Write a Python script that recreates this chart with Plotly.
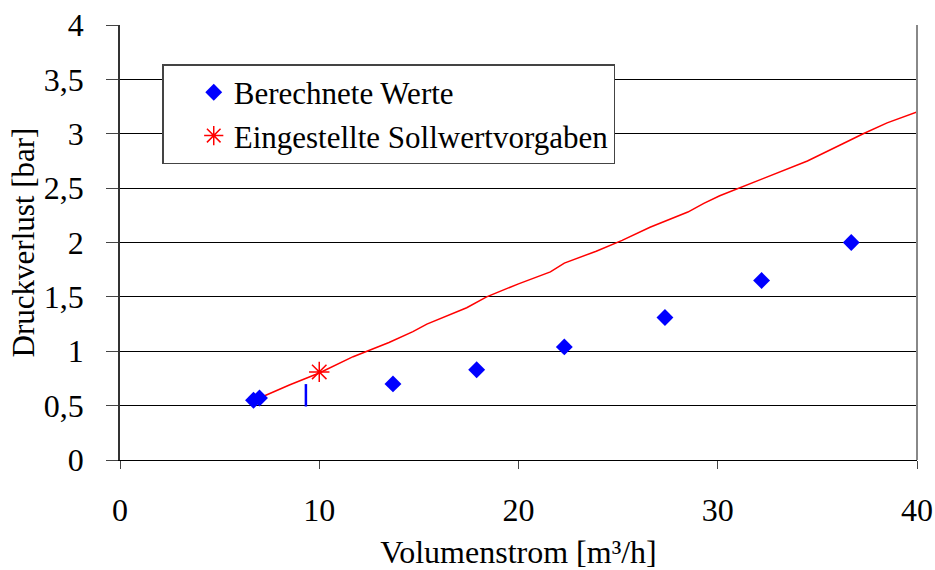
import plotly.graph_objects as go

# Berechnete Werte (calculated values)
calc_x = [6.7, 7.0, 13.7, 17.9, 22.3, 27.35, 32.2, 36.7]
calc_y = [0.55, 0.57, 0.70, 0.83, 1.04, 1.31, 1.65, 2.00]

# Eingestellte Sollwertvorgaben (set point)
set_x = [10.0]
set_y = [0.81]

# Red characteristic curve
curve_x = [7.0, 8.5, 10.0, 11.7, 13.5, 14.7, 15.4, 17.4, 18.4, 20.0, 21.6, 22.3,
           23.9, 25.2, 26.6, 28.5, 29.3, 30.1, 32.3, 34.5, 36.3, 37.3, 38.5, 40.0]
curve_y = [0.57, 0.69, 0.80, 0.95, 1.08, 1.18, 1.25, 1.40, 1.50, 1.62, 1.73, 1.81,
           1.92, 2.02, 2.14, 2.28, 2.36, 2.43, 2.59, 2.75, 2.91, 3.00, 3.10, 3.20]

# Small blue vertical marker
mark_x = [9.33]
mark_y = [0.595]

x_ticks = [0, 10, 20, 30, 40]
y_ticks = [0, 0.5, 1, 1.5, 2, 2.5, 3, 3.5, 4]

FONT = "Liberation Serif"

fig = go.Figure()
fig.add_trace(go.Scatter(x=curve_x, y=curve_y, mode="lines",
                         line=dict(color="#ff0000", width=1.5), showlegend=False,
                         hoverinfo="skip"))
fig.add_trace(go.Scatter(x=mark_x, y=mark_y, mode="markers",
                         marker=dict(symbol="line-ns", size=16, color="#0000ff",
                                     line=dict(color="#0000ff", width=2.5)),
                         showlegend=False))
fig.add_trace(go.Scatter(x=calc_x, y=calc_y, mode="markers", name="Berechnete Werte",
                         marker=dict(symbol="diamond", size=13, color="#0000ff")))
fig.add_trace(go.Scatter(x=set_x, y=set_y, mode="markers", name="Eingestellte Sollwertvorgaben",
                         marker=dict(symbol="asterisk-open", size=17, color="#ff0000",
                                     line=dict(color="#ff0000", width=1.5))))

fig.update_layout(
    width=935, height=570,
    margin=dict(l=120, r=18, t=25, b=110, autoexpand=False),
    paper_bgcolor="white", plot_bgcolor="white",
    separators=",.",
    font=dict(family=FONT, size=32, color="black"),
    legend=dict(x=0.053, y=0.91, xanchor="left", yanchor="top",
                bordercolor="#444", borderwidth=1.5, bgcolor="white",
                font=dict(family=FONT, size=31, color="black"),
                indentation=30, tracegroupgap=0),
    xaxis=dict(range=[0, 40], tickvals=x_ticks, showgrid=False, zeroline=False,
               automargin=False,
               showline=True, linecolor="black", linewidth=1,
               ticks="outside", ticklen=8, tickcolor="#444", tickwidth=1,
               ticklabelstandoff=14,
               title=dict(text="Volumenstrom [m³/h]", standoff=15,
                          font=dict(family=FONT, size=32))),
    yaxis=dict(range=[0, 4], tickvals=y_ticks, showgrid=True, gridcolor="black",
               gridwidth=1, zeroline=False, automargin=False,
               showline=True, linecolor="#333", linewidth=1.5,
               ticks="outside", ticklen=12, tickcolor="#444", tickwidth=1,
               ticklabelstandoff=16,
               title=dict(text="Druckverlust [bar]", standoff=0,
                          font=dict(family=FONT, size=31))),
)
fig.add_shape(type="line", xref="paper", yref="paper", x0=1, x1=1, y0=0, y1=1,
              line=dict(color="#888", width=2))

fig.write_html("out.html")
